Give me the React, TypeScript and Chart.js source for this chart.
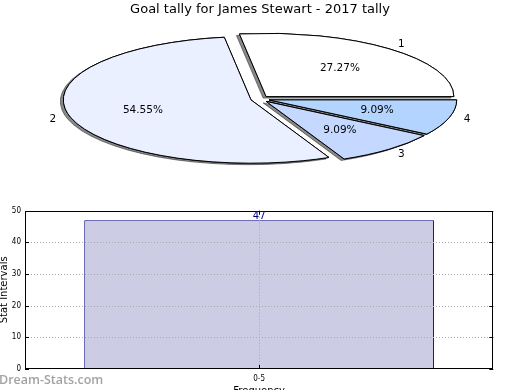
import React, { useEffect, useRef } from "react";
import Chart from "chart.js/auto";

// ---------- data ----------
const pieTitle = "Goal tally for James Stewart - 2017 tally";
const pieLabels = ["1", "2", "3", "4"];
const pieValues = [3, 6, 1, 1];
const pieColors = ["#ffffff", "#eaf0ff", "#c5d8ff", "#b2d4fe"];

const barCategories = ["0-5"];
const barValues = [47];
const yMin = 0;
const yMax = 50;
const yStep = 10;
const yAxisTitle = "Stat Intervals";
const xAxisTitle = "Frequency";
const watermark = "Dream-Stats.com";

// ---------- styling ----------
const FONT = "'DejaVu Sans', sans-serif";
const SMALL_FONT = "'DejaVu Sans Condensed', 'Liberation Sans Narrow', 'DejaVu Sans', sans-serif";
const PIE = { cx: 260, cy: 99, rx: 187.7, ry: 63.3, explode: 0.05, labelDist: 1.1, pctDist: 0.6 };

const ellipsePiePlugin = {
  id: "ellipsePie",
  beforeDatasetsDraw(chart: any) {
    const meta = chart.getDatasetMeta(0);
    const arcs = meta.data;
    if (!arcs.length) return false;
    const ctx = chart.ctx as CanvasRenderingContext2D;
    const dpr = chart.currentDevicePixelRatio || 1;
    const first = arcs[0];
    const R = first.outerRadius;
    const x0 = first.x;
    const y0 = first.y;
    const sx = PIE.rx / R;
    const sy = PIE.ry / R;
    const origStroke = ctx.stroke;
    (ctx as any).stroke = function (...args: any[]) {
      this.save();
      this.setTransform(dpr, 0, 0, dpr, 0, 0);
      origStroke.apply(this, args);
      this.restore();
    };
    const drawAll = (shadow: boolean) => {
      arcs.forEach((arc: any) => {
        ctx.save();
        ctx.setTransform(dpr * sx, 0, 0, -dpr * sy, dpr * (PIE.cx - sx * x0), dpr * (PIE.cy + sy * y0));
        const mid = (arc.startAngle + arc.endAngle) / 2;
        ctx.translate(PIE.explode * R * Math.cos(mid), PIE.explode * R * Math.sin(mid));
        if (shadow) {
          ctx.shadowColor = "rgba(40,40,40,0.55)";
          ctx.shadowOffsetX = -3;
          ctx.shadowOffsetY = 1.5;
          ctx.shadowBlur = 0;
        }
        arc.draw(ctx);
        ctx.restore();
      });
    };
    drawAll(true);
    drawAll(false);
    delete (ctx as any).stroke;

    // labels and percentages
    const values: number[] = chart.data.datasets[0].data;
    const total = values.reduce((s, v) => s + v, 0);
    ctx.save();
    ctx.setTransform(dpr, 0, 0, dpr, 0, 0);
    ctx.fillStyle = "#000";
    ctx.font = `10.5px ${FONT}`;
    ctx.textAlign = "center";
    ctx.textBaseline = "middle";
    arcs.forEach((arc: any, i: number) => {
      const mid = (arc.startAngle + arc.endAngle) / 2;
      const c = Math.cos(mid);
      const s = Math.sin(mid);
      const ex = PIE.explode;
      const lx = PIE.cx + PIE.rx * (PIE.labelDist + ex) * c;
      const ly = PIE.cy - PIE.ry * (PIE.labelDist + ex) * s;
      ctx.fillText(String(chart.data.labels[i]), lx, ly);
      const px = PIE.cx + PIE.rx * (PIE.pctDist + ex) * c;
      const py = PIE.cy - PIE.ry * (PIE.pctDist + ex) * s;
      ctx.fillText(((values[i] / total) * 100).toFixed(2) + "%", px, py);
    });
    ctx.restore();
    return false;
  },
};

const barDecorPlugin = {
  id: "barDecor",
  afterDatasetsDraw(chart: any) {
    const ctx = chart.ctx as CanvasRenderingContext2D;
    const a = chart.chartArea;
    const ys = chart.scales.y;
    const xs = chart.scales.x;
    ctx.save();
    // dotted grid
    ctx.strokeStyle = "#a8a8a8";
    ctx.lineWidth = 1;
    ctx.setLineDash([1, 2]);
    ys.ticks.forEach((t: any) => {
      if (t.value <= yMin || t.value >= yMax) return;
      const py = Math.round(ys.getPixelForValue(t.value)) + 0.5;
      ctx.beginPath();
      ctx.moveTo(a.left, py);
      ctx.lineTo(a.right, py);
      ctx.stroke();
    });
    xs.ticks.forEach((_t: any, i: number) => {
      const px = Math.round(xs.getPixelForTick(i)) + 0.5;
      ctx.beginPath();
      ctx.moveTo(px, a.top);
      ctx.lineTo(px, a.bottom);
      ctx.stroke();
    });
    // tick marks
    ctx.setLineDash([]);
    ctx.strokeStyle = "#000";
    ys.ticks.forEach((t: any) => {
      const py = Math.round(ys.getPixelForValue(t.value)) + 0.5;
      ctx.beginPath();
      ctx.moveTo(a.left, py);
      ctx.lineTo(a.left + 4, py);
      ctx.moveTo(a.right - 4, py);
      ctx.lineTo(a.right, py);
      ctx.stroke();
    });
    xs.ticks.forEach((_t: any, i: number) => {
      const px = Math.round(xs.getPixelForTick(i)) + 0.5;
      ctx.beginPath();
      ctx.moveTo(px, a.bottom);
      ctx.lineTo(px, a.bottom - 4);
      ctx.moveTo(px, a.top);
      ctx.lineTo(px, a.top + 4);
      ctx.stroke();
    });
    // frame
    ctx.strokeRect(Math.round(a.left) + 0.5, Math.round(a.top) + 0.5, Math.round(a.right - a.left) - 1, Math.round(a.bottom - a.top) - 1);
    // value labels
    const meta = chart.getDatasetMeta(0);
    ctx.fillStyle = "#000080";
    ctx.font = `10px ${FONT}`;
    ctx.textAlign = "center";
    ctx.textBaseline = "bottom";
    meta.data.forEach((bar: any, i: number) => {
      ctx.fillText(String(chart.data.datasets[0].data[i]), bar.x, bar.y + 1);
    });
    ctx.restore();
  },
  afterDraw(chart: any) {
    const ctx = chart.ctx as CanvasRenderingContext2D;
    ctx.save();
    ctx.fillStyle = "#a3a3a3";
    ctx.font = `600 12.5px 'Open Sans', sans-serif`;
    ctx.textAlign = "left";
    ctx.textBaseline = "alphabetic";
    ctx.fillText(watermark, -1, 189);
    ctx.restore();
  },
};

export default function App() {
  const pieRef = useRef<HTMLCanvasElement>(null);
  const barRef = useRef<HTMLCanvasElement>(null);

  useEffect(() => {
    const pie = new Chart(pieRef.current!, {
      type: "pie",
      data: {
        labels: pieLabels,
        datasets: [
          {
            data: pieValues,
            backgroundColor: pieColors,
            borderColor: "#000",
            borderWidth: 1,
            borderJoinStyle: "miter",
          } as any,
        ],
      },
      options: {
        responsive: false,
        animation: false,
        devicePixelRatio: 1,
        rotation: 90,
        events: [],
        plugins: {
          legend: { display: false },
          tooltip: { enabled: false },
          title: {
            display: true,
            text: pieTitle,
            color: "#000",
            font: { family: FONT, size: 13, weight: "normal" },
            padding: { top: 2, bottom: 4 },
          },
        },
      } as any,
      plugins: [ellipsePiePlugin],
    });

    const bar = new Chart(barRef.current!, {
      type: "bar",
      data: {
        labels: barCategories,
        datasets: [
          {
            data: barValues,
            backgroundColor: "#cccde4",
            borderColor: "#000080",
            borderWidth: 1,
            borderSkipped: false,
            categoryPercentage: 1,
            barPercentage: 0.747,
          } as any,
        ],
      },
      options: {
        responsive: false,
        animation: false,
        devicePixelRatio: 1,
        events: [],
        layout: { padding: { top: 15.7, right: 26.7, left: 0, bottom: 0 } },
        plugins: {
          legend: { display: false },
          tooltip: { enabled: false },
          title: { display: false },
        },
        scales: {
          x: {
            grid: { display: false, drawTicks: false },
            border: { display: false },
            ticks: { color: "#000", font: { family: SMALL_FONT, size: 8 }, padding: 5 },
            title: {
              display: true,
              text: xAxisTitle,
              color: "#000",
              font: { family: FONT, size: 10 },
              padding: { top: 0, bottom: 13 },
            },
            afterFit(scale: any) {
              scale.height = 41;
            },
          },
          y: {
            min: yMin,
            max: yMax,
            grid: { display: false, drawTicks: false },
            border: { display: false },
            ticks: { stepSize: yStep, color: "#000", font: { family: SMALL_FONT, size: 8 }, padding: 4 },
            title: {
              display: true,
              text: yAxisTitle,
              color: "#000",
              font: { family: FONT, size: 10, lineHeight: 0.8 },
              padding: 0,
            },
            afterFit(scale: any) {
              scale.width = 25;
            },
          },
        },
      } as any,
      plugins: [barDecorPlugin],
    });

    return () => {
      pie.destroy();
      bar.destroy();
    };
  }, []);

  return (
    <div
      style={{
        position: "fixed",
        left: 0,
        top: 0,
        width: 520,
        height: 390,
        overflow: "hidden",
        background: "#fff",
      }}
    >
      <canvas
        ref={pieRef}
        width={520}
        height={195}
        style={{ position: "absolute", left: 0, top: 0, width: 520, height: 195, display: "block" }}
      />
      <canvas
        ref={barRef}
        width={520}
        height={215}
        style={{ position: "absolute", left: 0, top: 195, width: 520, height: 215, display: "block" }}
      />
    </div>
  );
}
